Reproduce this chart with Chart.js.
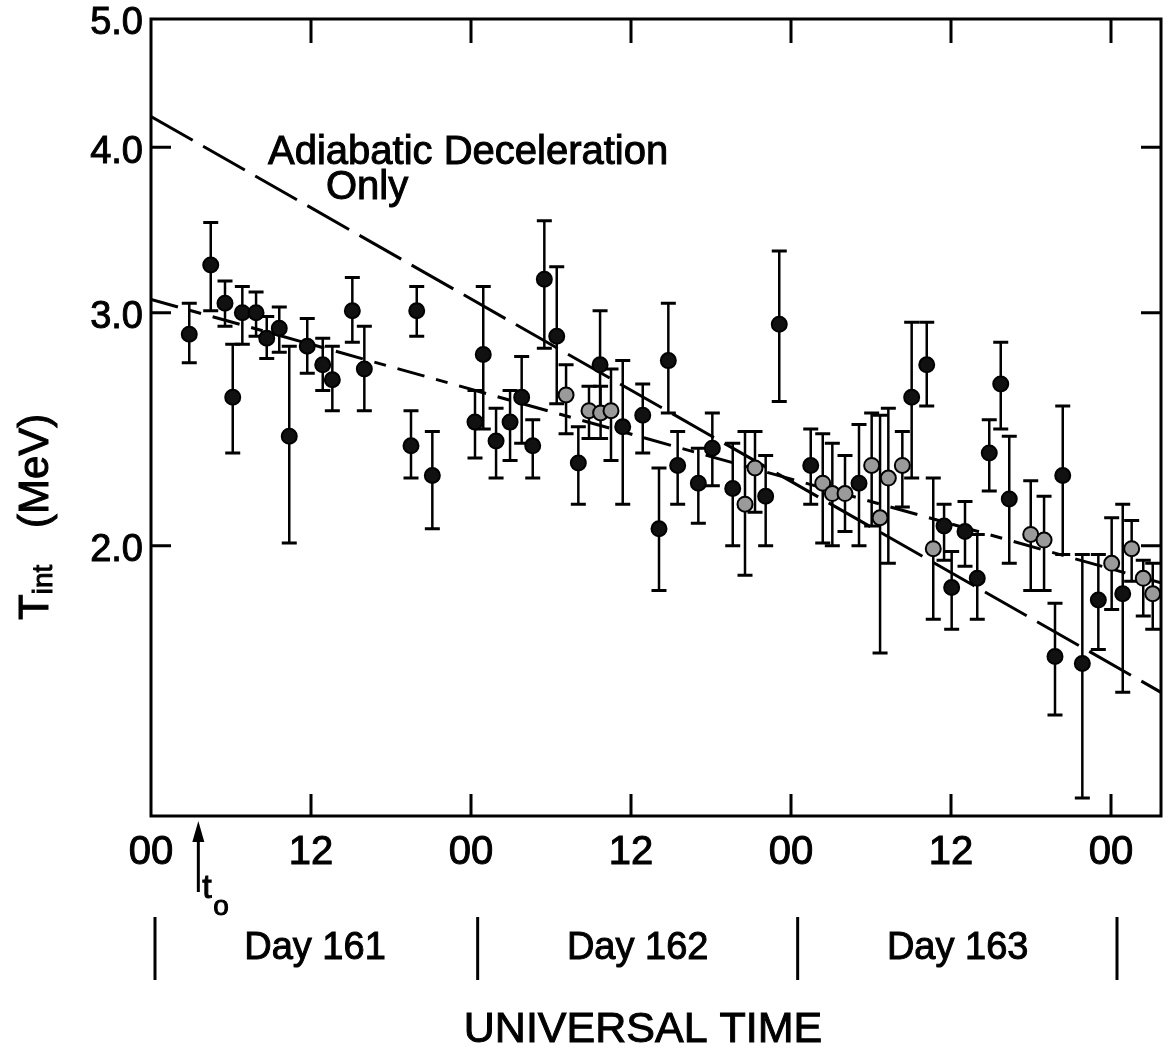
<!DOCTYPE html>
<html>
<head>
<meta charset="utf-8">
<script src="https://cdn.jsdelivr.net/npm/chart.js@4.4.1/dist/chart.umd.min.js"></script>
<style>
  html, body { margin: 0; padding: 0; background: #fff; }
  #wrap { width: 1171px; height: 1057px; }
</style>
</head>
<body>
<div id="wrap"><canvas id="c" width="1171" height="1057"></canvas></div>
<script>
// Hours after 00 UT of Day 161
const hours = [2.87, 4.48, 5.55, 6.13, 6.85, 7.88, 8.68, 9.62, 10.37, 11.72,
  12.88, 13.6, 15.1, 16.0, 19.5, 19.93, 21.1, 24.3, 24.92, 25.88,
  26.93, 27.8, 28.63, 29.5, 30.43, 31.13, 32.05, 32.85, 33.68, 33.72,
  34.5, 35.38, 36.88, 38.1, 38.8, 39.5, 41.05, 42.1, 43.63, 44.55,
  45.3, 46.1, 47.12, 49.48, 50.38, 51.1, 52.05, 53.1, 54.05, 54.68,
  55.3, 56.35, 57.05, 58.18, 58.67, 59.48, 60.05, 61.05, 61.97, 62.87,
  63.73, 64.37, 65.98, 66.98, 67.8, 68.38, 69.85, 71.05, 72.05, 72.88,
  73.55, 74.42, 75.13];
// T_int (MeV)
const tint = [2.89, 3.26, 3.05, 2.59, 3.00, 3.00, 2.87, 2.92, 2.42, 2.83,
  2.74, 2.67, 3.01, 2.72, 2.38, 3.01, 2.26, 2.48, 2.79, 2.40,
  2.48, 2.59, 2.38, 3.18, 2.88, 2.60, 2.31, 2.53, 2.74, 2.52,
  2.53, 2.46, 2.51, 2.06, 2.76, 2.30, 2.23, 2.37, 2.21, 2.15,
  2.29, 2.18, 2.94, 2.30, 2.23, 2.19, 2.19, 2.23, 2.30, 2.10,
  2.25, 2.30, 2.59, 2.74, 1.99, 2.07, 1.86, 2.05, 1.89, 2.35,
  2.65, 2.17, 2.04, 2.02, 1.65, 2.26, 1.63, 1.82, 1.94, 1.84,
  1.99, 1.89, 1.84];
// lower / upper ends of the error bars (MeV)
const tintLow = [2.75, 3.01, 2.93, 2.35, 2.84, 2.88, 2.77, 2.80, 2.01, 2.70,
  2.62, 2.53, 2.85, 2.53, 2.25, 2.88, 2.06, 2.33, 2.45, 2.25,
  2.32, 2.39, 2.25, 2.82, 2.56, 2.43, 2.15, 2.41, 2.53, 2.41,
  2.32, 2.15, 2.35, 1.85, 2.52, 2.15, 2.08, 2.22, 2.00, 1.90,
  2.12, 2.00, 2.57, 2.15, 2.01, 2.00, 2.05, 2.00, 2.07, 1.66,
  1.94, 2.14, 2.25, 2.55, 1.76, 1.95, 1.73, 1.93, 1.76, 2.20,
  2.45, 1.94, 1.85, 1.85, 1.49, 1.97, 1.29, 1.67, 1.79, 1.55,
  1.88, 1.77, 1.73];
const tintHigh = [3.05, 3.51, 3.17, 2.84, 3.14, 3.11, 2.98, 3.03, 2.83, 2.97,
  2.87, 2.83, 3.19, 2.93, 2.53, 3.14, 2.44, 2.62, 3.14, 2.54,
  2.62, 2.78, 2.49, 3.52, 3.25, 2.74, 2.46, 2.64, 3.01, 2.64,
  2.72, 2.76, 2.65, 2.29, 3.05, 2.44, 2.37, 2.52, 2.39, 2.44,
  2.44, 2.34, 3.34, 2.45, 2.43, 2.39, 2.34, 2.47, 2.52, 2.51,
  2.54, 2.44, 2.95, 2.95, 2.25, 2.15, 1.98, 2.16, 2.04, 2.49,
  2.85, 2.42, 2.24, 2.18, 1.81, 2.55, 1.97, 1.97, 2.10, 2.15,
  2.09, 1.95, 1.94];
// 1 = shaded (grey) symbol
const shaded = [0, 0, 0, 0, 0, 0, 0, 0, 0, 0,
  0, 0, 0, 0, 0, 0, 0, 0, 0, 0,
  0, 0, 0, 0, 0, 1, 0, 1, 0, 1,
  1, 0, 0, 0, 0, 0, 0, 0, 0, 1,
  1, 0, 0, 0, 1, 1, 1, 0, 1, 1,
  1, 1, 0, 0, 1, 0, 0, 0, 0, 0,
  0, 0, 1, 1, 0, 0, 0, 0, 1, 0,
  1, 1, 1];

// model curves (end values over the plotted span)
const curveHours = [0, 75.75];
const adiabaticOnly = [4.22, 1.55];
const fullModel = [3.07, 1.875];

const xTickHours = [0, 12, 24, 36, 48, 60, 72];
const xTickLabels = ['00', '12', '00', '12', '00', '12', '00'];
const yTickValues = [2, 3, 4, 5];
const yTickLabels = ['2.0', '3.0', '4.0', '5.0'];
const dayLabels = ['Day 161', 'Day 162', 'Day 163'];
const dayCenters = [12.3, 36.5, 60.5];
const dayBreaks = [0.3, 24.5, 48.5, 72.45];
const t0Hour = 3.55;

const FONT = "'Liberation Sans', Arial, sans-serif";

// filled text with a thin outline, for the heavier lettering
function inkText(ctx, str, x, y) {
  ctx.fillText(str, x, y);
  ctx.strokeText(str, x, y);
}

const decor = {
  id: 'decor',
  beforeDatasetsDraw(chart) {
    const { ctx, scales: { x, y } } = chart;
    ctx.save();
    ctx.strokeStyle = '#000';
    for (let i = 0; i < hours.length; i++) {
      const px = x.getPixelForValue(hours[i]);
      const lo = y.getPixelForValue(tintLow[i]);
      const hi = y.getPixelForValue(tintHigh[i]);
      ctx.lineWidth = 2.5;
      ctx.beginPath(); ctx.moveTo(px, lo); ctx.lineTo(px, hi); ctx.stroke();
      ctx.lineWidth = 3;
      ctx.beginPath();
      ctx.moveTo(px - 7.5, lo); ctx.lineTo(px + 7.5, lo);
      ctx.moveTo(px - 7.5, hi); ctx.lineTo(px + 7.5, hi);
      ctx.stroke();
    }
    ctx.restore();
  },
  afterDraw(chart) {
    const { ctx, chartArea: a, scales: { x, y } } = chart;
    ctx.save();
    ctx.strokeStyle = '#000';
    ctx.fillStyle = '#000';
    // frame
    ctx.lineWidth = 3;
    ctx.strokeRect(a.left, a.top, a.right - a.left, a.bottom - a.top);
    // inward ticks
    ctx.beginPath();
    xTickHours.forEach(h => {
      if (h === 0) return;
      const px = x.getPixelForValue(h);
      ctx.moveTo(px, a.top); ctx.lineTo(px, a.top + 24);
      ctx.moveTo(px, a.bottom); ctx.lineTo(px, a.bottom - 22);
    });
    yTickValues.forEach(v => {
      if (v === 5) return;
      const py = y.getPixelForValue(v);
      ctx.moveTo(a.left, py); ctx.lineTo(a.left + 20, py);
      ctx.moveTo(a.right, py); ctx.lineTo(a.right - 20, py);
    });
    ctx.stroke();

    // curve label
    ctx.lineWidth = 1;
    ctx.font = '40px ' + FONT;
    ctx.textBaseline = 'alphabetic';
    ctx.textAlign = 'left';
    inkText(ctx, 'Adiabatic Deceleration', 268, 164);
    inkText(ctx, 'Only', 326, 199);

    // t0 marker
    const tx = x.getPixelForValue(t0Hour);
    ctx.lineWidth = 3;
    ctx.beginPath(); ctx.moveTo(tx, 892); ctx.lineTo(tx, 836); ctx.stroke();
    ctx.beginPath();
    ctx.moveTo(tx, 821); ctx.lineTo(tx - 6, 842); ctx.lineTo(tx + 6, 842); ctx.closePath();
    ctx.fill();
    ctx.lineWidth = 1;
    ctx.font = '34px ' + FONT;
    inkText(ctx, 't', tx + 4, 898);
    ctx.font = '28px ' + FONT;
    inkText(ctx, 'o', tx + 15, 915);

    // day row
    ctx.lineWidth = 3;
    ctx.beginPath();
    dayBreaks.forEach(h => {
      const px = x.getPixelForValue(h);
      ctx.moveTo(px, 917); ctx.lineTo(px, 980);
    });
    ctx.stroke();
    ctx.lineWidth = 1;
    ctx.font = '38px ' + FONT;
    ctx.textAlign = 'center';
    ctx.textBaseline = 'middle';
    dayLabels.forEach((t, i) => inkText(ctx, t, x.getPixelForValue(dayCenters[i]), 949));

    // axis titles
    ctx.font = '43px ' + FONT;
    ctx.textBaseline = 'alphabetic';
    inkText(ctx, 'UNIVERSAL TIME', x.getPixelForValue(36.9), 1042);

    ctx.translate(48, 620);
    ctx.rotate(-Math.PI / 2);
    ctx.textAlign = 'left';
    ctx.font = '42px ' + FONT;
    inkText(ctx, 'T', 0, 0);
    const tw = ctx.measureText('T').width;
    ctx.font = '28px ' + FONT;
    inkText(ctx, 'int', tw, 4);
    ctx.font = '42px ' + FONT;
    inkText(ctx, '(MeV)', 92, 0);
    ctx.restore();
  }
};

new Chart(document.getElementById('c'), {
  type: 'scatter',
  data: {
    datasets: [
      {
        label: 'T_int',
        data: hours.map((h, i) => ({ x: h, y: tint[i] })),
        pointRadius: 7.5,
        pointBackgroundColor: shaded.map(s => (s ? '#9a9a9a' : '#111')),
        pointBorderColor: '#000',
        pointBorderWidth: 2,
        showLine: false,
        order: 0
      },
      {
        label: 'Adiabatic Deceleration Only',
        type: 'line',
        data: curveHours.map((h, i) => ({ x: h, y: adiabaticOnly[i] })),
        borderColor: '#000',
        borderWidth: 3,
        borderDash: [48, 12],
        pointRadius: 0,
        fill: false,
        order: 1
      },
      {
        label: 'Model',
        type: 'line',
        data: curveHours.map((h, i) => ({ x: h, y: fullModel[i] })),
        borderColor: '#000',
        borderWidth: 3,
        borderDash: [28, 12, 12, 12],
        pointRadius: 0,
        fill: false,
        order: 2
      }
    ]
  },
  options: {
    responsive: false,
    animation: false,
    devicePixelRatio: 1,
    layout: { padding: { top: 19, right: 10, left: 0, bottom: 0 } },
    plugins: { legend: { display: false }, tooltip: { enabled: false } },
    scales: {
      x: {
        type: 'linear',
        min: 0,
        max: 75.75,
        grid: { display: false, drawTicks: false },
        border: { display: false },
        afterBuildTicks: s => { s.ticks = xTickHours.map(v => ({ value: v })); },
        afterFit: s => { s.height = 241; s.paddingLeft = 0; s.paddingRight = 0; },
        ticks: {
          callback: (v, i) => xTickLabels[i],
          font: { family: FONT, size: 40 },
          color: '#000',
          textStrokeColor: '#000',
          textStrokeWidth: 1,
          padding: 13,
          maxRotation: 0,
          autoSkip: false
        }
      },
      y: {
        type: 'logarithmic',
        min: 1.25,
        max: 5,
        grid: { display: false, drawTicks: false },
        border: { display: false },
        afterBuildTicks: s => { s.ticks = yTickValues.map(v => ({ value: v })); },
        afterFit: s => { s.width = 151; s.paddingTop = 0; s.paddingBottom = 0; },
        ticks: {
          callback: (v, i) => yTickLabels[i],
          font: { family: FONT, size: 38 },
          color: '#000',
          textStrokeColor: '#000',
          textStrokeWidth: 1,
          padding: 8,
          labelOffset: 5,
          autoSkip: false
        }
      }
    }
  },
  plugins: [decor]
});
</script>
</body>
</html>
